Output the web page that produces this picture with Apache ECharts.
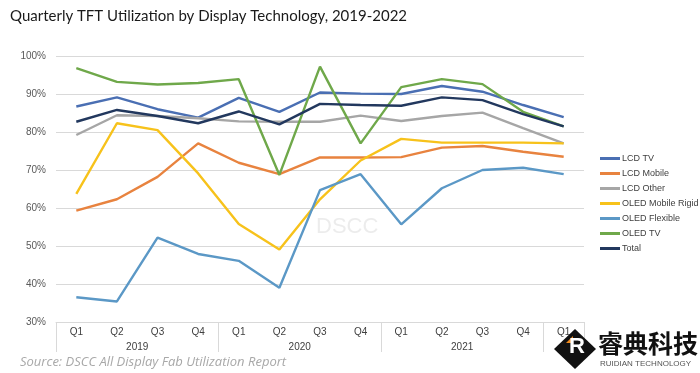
<!DOCTYPE html>
<html><head><meta charset="utf-8">
<script src="https://cdn.jsdelivr.net/npm/echarts@6/dist/echarts.min.js"></script>
<style>html,body{margin:0;padding:0;background:#fff}#c{width:700px;height:373px}</style>
</head><body><div id="c"></div>
<script>
const quarters = ['Q1','Q2','Q3','Q4','Q1','Q2','Q3','Q4','Q1','Q2','Q3','Q4','Q1'];
const years = ['2019','2020','2021'];
const yTicks = [30,40,50,60,70,80,90,100];
const lcdTV =        [86.7,89.1,86.0,83.8,89.0,85.3,90.4,90.1,90.0,92.1,90.6,87.1,83.9];
const lcdMobile =    [59.3,62.3,68.2,77.0,71.9,68.9,73.3,73.3,73.4,75.9,76.3,74.8,73.5];
const lcdOther =     [79.2,84.4,84.2,83.6,82.8,82.7,82.7,84.3,82.9,84.2,85.1,81.0,77.0];
const oledRigid =    [63.7,82.3,80.5,69.1,55.8,49.1,62.3,72.5,78.2,77.2,77.2,77.2,77.0];
const oledFlexible = [36.5,35.4,52.2,47.9,46.1,39.0,64.7,68.9,55.7,65.2,70.0,70.6,68.9];
const oledTV =       [96.8,93.2,92.5,92.9,93.9,68.7,97.2,77.0,91.8,93.9,92.6,85.3,81.5];
const total =        [82.7,85.8,84.2,82.3,85.4,82.0,87.4,87.1,86.9,89.1,88.4,84.7,81.5];

const names = ['LCD TV','LCD Mobile','LCD Other','OLED Mobile Rigid','OLED Flexible','OLED TV','Total'];
const colors = ['#4a6fb3','#e8833f','#a6a6a6','#f7c21b','#5b98c6','#6fa84a','#22385e'];
const datas = [lcdTV,lcdMobile,lcdOther,oledRigid,oledFlexible,oledTV,total];

const chart = echarts.init(document.getElementById('c'));
chart.setOption({
  animation:false,
  backgroundColor:'#fff',
  title:{text:'Quarterly TFT Utilization by Display Technology, 2019-2022',left:5,top:4,
    textStyle:{fontFamily:'Lato',fontSize:15,fontWeight:'normal',color:'#1a1a1a'}},
  grid:{left:56,right:116,top:56,bottom:51},
  legend:{orient:'vertical',left:595,top:149,width:110,itemWidth:20,itemHeight:3,itemGap:6,icon:'rect',
    textStyle:{fontFamily:'Liberation Sans',fontSize:9,color:'#404040',padding:[0,0,0,-3],width:90,overflow:'none'},
    data:names},
  xAxis:[{type:'category',data:quarters,boundaryGap:true,
    axisLine:{show:true,lineStyle:{color:'#d9d9d9'}},axisTick:{show:false},
    axisLabel:{color:'#404040',fontSize:10,fontFamily:'Liberation Sans',margin:5}},
   {type:'value',min:0,max:13,position:'bottom',
    axisLine:{show:false},splitLine:{show:false},
    axisTick:{show:true,customValues:[0,4,8,12,13],length:30,lineStyle:{color:'#d9d9d9'}},
    axisLabel:{customValues:[2,6,10],margin:20,color:'#404040',fontSize:10,fontFamily:'Liberation Sans',
      formatter:v=>years[(v-2)/4]}}],
  yAxis:{type:'value',min:30,max:100,interval:10,
    axisLine:{show:false},axisTick:{show:false},
    splitLine:{lineStyle:{color:'#d9d9d9'}},
    axisLabel:{formatter:v=>yTicks.includes(v)?v+'%':'',color:'#595959',fontSize:10,fontFamily:'Liberation Sans',margin:10}},
  series:names.map((n,i)=>({name:n,type:'line',data:datas[i],symbol:'none',
    lineStyle:{width:2.4,color:colors[i]},itemStyle:{color:colors[i]},z:i===6?5:2})),
  graphic:[
    {type:'text',left:316,top:216,style:{text:'DSCC',fontSize:22,fontFamily:'Liberation Sans',fill:'rgba(200,200,200,0.35)'},z:0},
    {type:'text',left:20,top:356,style:{text:'Source: DSCC All Display Fab Utilization Report',fontSize:13,fontStyle:'italic',fontFamily:'Open Sans',fill:'#a8a8a8'}},
    {type:'polygon',shape:{points:[[575,329],[596,349],[575,369],[554,349]]},style:{fill:'#111'},z:10},
    {type:'polygon',shape:{points:[[566,343],[573,336],[573,343]]},style:{fill:'#f08a1c'},z:11},
    {type:'text',left:569,top:336,style:{text:'R',fontSize:22,fontWeight:'bold',fontFamily:'Liberation Sans',fill:'#fff'},z:11},
    {type:'text',left:598,top:331,style:{text:'睿典科技',fontSize:25,fontWeight:'bold',fontFamily:'Noto Sans CJK SC',fill:'#111'},z:10},
    {type:'text',left:600,top:360,style:{text:'RUIDIAN TECHNOLOGY',fontSize:8,fontFamily:'Liberation Sans',fill:'#555'},z:10}
  ]
});
</script></body></html>
